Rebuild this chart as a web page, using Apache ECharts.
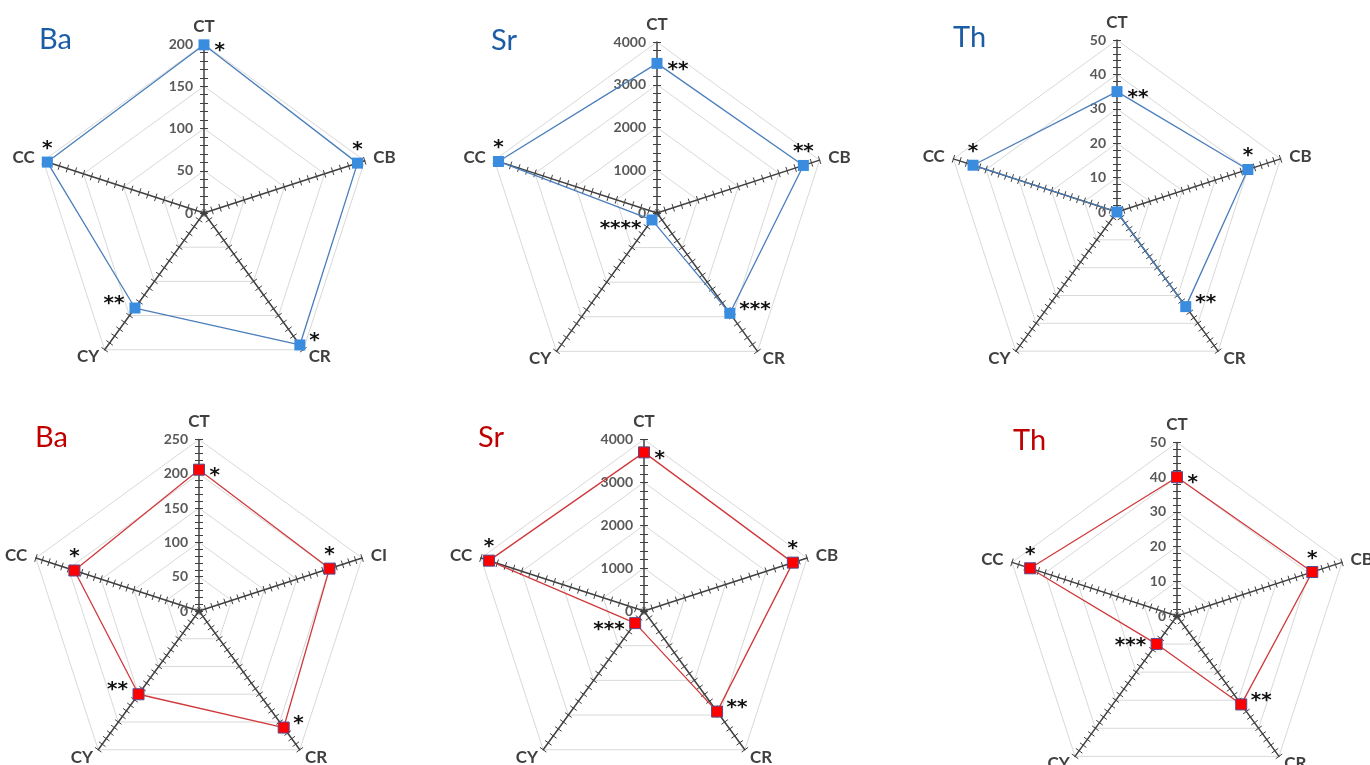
<!DOCTYPE html>
<html><head><meta charset="utf-8">
<script src="https://cdn.jsdelivr.net/npm/echarts@6/dist/echarts.min.js"></script>
<style>html,body{margin:0;padding:0;background:#fff}#c{width:1370px;height:765px}</style>
</head><body><div id="c"></div>
<script>
// ---- data (clockwise order from the top: CT, CB, CR, CY, CC) ----
const axisNamesStd = ['CT', 'CB', 'CR', 'CY', 'CC'];
const axisNamesBaRed = ['CT', 'CI', 'CR', 'CY', 'CC'];
const panelTitles = ['Ba', 'Sr', 'Th', 'Ba', 'Sr', 'Th'];
const axisMax = [200, 4000, 50, 250, 4000, 50];
const axisSplits = [4, 4, 5, 5, 4, 5];

const baBlue = [199, 191, 193, 139, 195];
const srBlue = [3500, 3600, 2900, 200, 3900];
const thBlue = [35, 40, 34, 0, 44];
const baRed = [206, 200, 210, 150, 191];
const srRed = [3700, 3650, 2900, 350, 3800];
const thRed = [40, 41, 31.5, 10, 44.5];

const baBlueSig = ['*', '*', '*', '**', '*'];
const srBlueSig = ['**', '**', '***', '****', '*'];
const thBlueSig = ['**', '*', '**', '', '*'];
const baRedSig = ['*', '*', '*', '**', '*'];
const srRedSig = ['*', '*', '**', '***', '*'];
const thRedSig = ['*', '*', '**', '***', '*'];

// ---- layout / style ----
const panels = [
  {names: axisNamesStd, values: baBlue, sig: baBlueSig, c: [204, 213], r: 169, color: 'blue', title: [39, 25], cyDy: -4},
  {names: axisNamesStd, values: srBlue, sig: srBlueSig, c: [657, 213], r: 171, color: 'blue', title: [491, 26], cyDy: 9},
  {names: axisNamesStd, values: thBlue, sig: thBlueSig, c: [1117, 212], r: 172, color: 'blue', title: [953, 23], cyDy: 0},
  {names: axisNamesBaRed, values: baRed, sig: baRedSig, c: [199, 611], r: 171.5, color: 'red', title: [35, 423], cyDy: -4},
  {names: axisNamesStd, values: srRed, sig: srRedSig, c: [644, 611], r: 171.5, color: 'red', title: [478, 423], cyDy: 7},
  {names: axisNamesStd, values: thRed, sig: thRedSig, c: [1177, 616], r: 173.5, color: 'red', title: [1013, 426], cyDy: 2}
];
const palette = {
  blue: {title: '#1a5ca6', line: '#4a7ebb', fill: '#3a8dde', border: '#3a8dde', bw: 0},
  red: {title: '#c00000', line: '#d0393b', fill: '#ff0000', border: '#5a4a8a', bw: 1}
};
// ECharts radar goes counter-clockwise from the top: CT, CC, CY, CR, CB
const order = [0, 4, 3, 2, 1];
// label placement per clockwise vertex index
const labelPlace = [
  {position: 'right', distance: 5, offset: [0, 6]},   // CT
  {position: 'top', distance: 0, offset: [0, 2]},     // CB
  {position: 'right', distance: 4, offset: [0, -4]},  // CR
  {position: 'left', distance: 5, offset: [0, 0]},    // CY
  {position: 'top', distance: 0, offset: [0, 2]}      // CC
];
const axisColor = '#404040';
const fontFam = 'Lato, "Open Sans", sans-serif';

function makeIndicators(p, i, side) {
  return order.map((k, j) => ({
    name: p.names[k], min: 0, max: axisMax[i],
    axisTick: {show: true, length: 4 * side, lineStyle: {color: axisColor, width: 1}},
    minorTick: {show: true, splitNumber: 5, length: 4 * side, lineStyle: {color: axisColor, width: 1}},
    axisLabel: {show: side > 0 && j === 0, color: '#595959', fontSize: 14, fontWeight: 'bold', fontFamily: fontFam,
      margin: 11, formatter: (v) => String(v)}
  }));
}

const radar = [], series = [], title = [];
panels.forEach((p, i) => {
  const pal = palette[p.color];
  title.push({text: panelTitles[i], left: p.title[0], top: p.title[1], padding: 0,
    textStyle: {color: pal.title, fontSize: 29, fontWeight: 'normal', fontFamily: fontFam}});
  const base = {center: p.c, radius: p.r, startAngle: 90, splitNumber: axisSplits[i], shape: 'polygon'};
  radar.push(Object.assign({}, base, {
    indicator: makeIndicators(p, i, 1),
    axisName: {show: true, color: axisColor, fontSize: 17, fontWeight: 'bold', fontFamily: fontFam},
    axisNameGap: 9,
    axisLine: {show: true, lineStyle: {color: axisColor, width: 1.5}},
    splitLine: {show: true, lineStyle: {color: '#d9d9d9', width: 1}},
    splitArea: {show: false}
  }));
  radar.push(Object.assign({}, base, {
    indicator: makeIndicators(p, i, -1),
    axisName: {show: false},
    axisLine: {show: false},
    splitLine: {show: false},
    splitArea: {show: false}
  }));
  const vals = order.map(k => p.values[k]);
  const data = [{
    value: vals, symbol: 'rect', symbolSize: 11,
    itemStyle: {color: pal.fill, borderColor: pal.border, borderWidth: pal.bw},
    lineStyle: {color: pal.line, width: 1.3},
    label: {show: false}
  }];
  order.forEach((k, j) => {
    const lp = labelPlace[k];
    const off = k === 3 ? [0, p.cyDy] : lp.offset;
    data.push({
      value: vals, symbol: 'rect', symbolSize: 11,
      itemStyle: {color: 'transparent', borderWidth: 0},
      lineStyle: {opacity: 0, width: 0},
      label: {show: true, position: lp.position, distance: lp.distance, offset: off,
        color: '#111', fontSize: 20, fontWeight: 'bold', fontFamily: '"DejaVu Sans", sans-serif',
        formatter: (q) => (q.dimensionIndex === j ? p.sig[k] : '')}
    });
  });
  series.push({type: 'radar', radarIndex: 2 * i, silent: true, z: 3, data: data});
});

const chart = echarts.init(document.getElementById('c'), null, {renderer: 'canvas'});
chart.setOption({animation: false, backgroundColor: '#fff', title: title, radar: radar, series: series});
</script>
</body></html>
